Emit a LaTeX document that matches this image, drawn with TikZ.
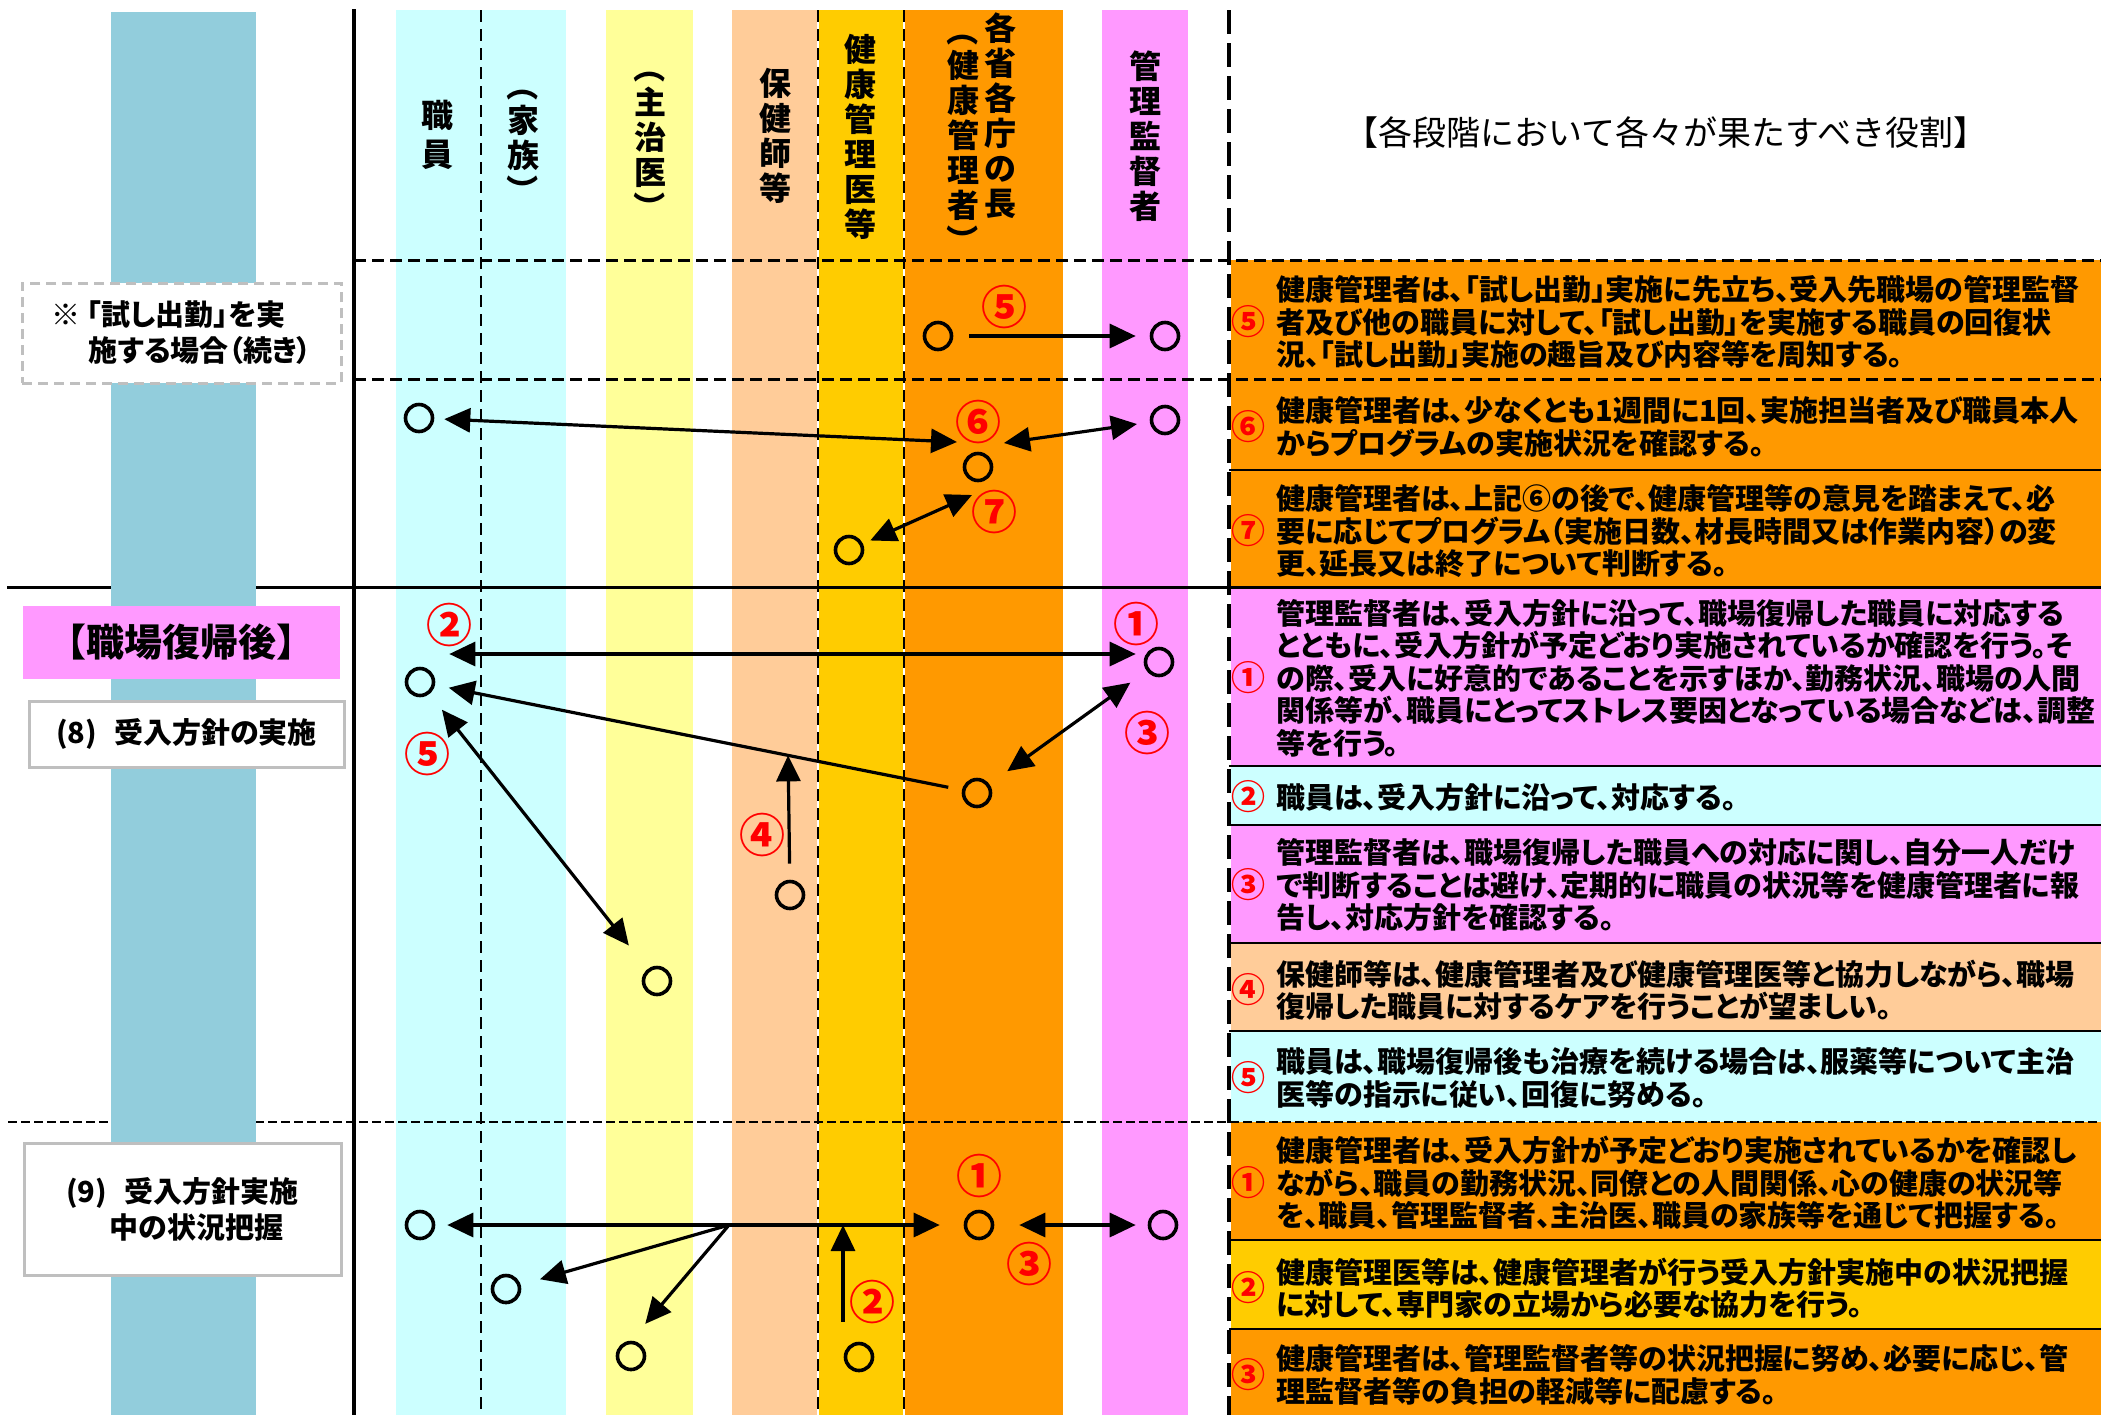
\documentclass[tikz,border=0pt]{standalone}
\usepackage{fontspec}
\usepackage{graphicx}
\setmainfont{Noto Sans CJK JP}
\newfontfamily\jpprop{Noto Sans CJK JP}[RawFeature=+palt]
\usetikzlibrary{arrows.meta,positioning}

\definecolor{bandblue}{HTML}{92CDDC}
\definecolor{staffcyan}{HTML}{CCFFFF}
\definecolor{doctoryellow}{HTML}{FFFF99}
\definecolor{nursepeach}{HTML}{FFCC99}
\definecolor{physgold}{HTML}{FFCC00}
\definecolor{headorange}{HTML}{FF9900}
\definecolor{bosspink}{HTML}{FF99FF}
\definecolor{boxgray}{HTML}{BFBFBF}

\newcommand{\vlparen}{\rotatebox[origin=c]{-90}{（}}
\newcommand{\vrparen}{\rotatebox[origin=c]{-90}{）}}

\begin{document}
\begin{tikzpicture}[
  x=0.5pt, y=-0.5pt,
  vlabel/.style={font=\bfseries\fontsize{16}{17.5}\selectfont, align=center, inner sep=0pt},
  title/.style={font=\fontsize{17}{20}\selectfont, inner sep=0pt},
  role/.style={anchor=west, align=left, inner sep=0pt, font=\jpprop\bfseries\fontsize{14.5}{16.25}\selectfont},
  rolenum/.style={text=red, inner sep=0pt, font=\bfseries\fontsize{17}{18}\selectfont},
  stepnum/.style={text=red, inner sep=0pt, font=\bfseries\fontsize{23}{24}\selectfont},
  actor/.style={circle, draw, line width=1.8pt, minimum size=13.5pt, inner sep=0pt},
  arr/.style={-{Triangle[length=13pt,width=12pt]}, line width=1.6pt},
  dbl/.style={{Triangle[length=13pt,width=12pt]}-{Triangle[length=13pt,width=12pt]}, line width=1.6pt},
  phasebox/.style={draw=boxgray, line width=1.5pt, fill=white, inner sep=0pt, font=\jpprop\bfseries\fontsize{14.5}{18}\selectfont},
  rowdash/.style={line width=1.5pt, dash pattern=on 6pt off 3pt},
  lanedash/.style={line width=1pt, dash pattern=on 6pt off 3.5pt}
]
\useasboundingbox (0,0) rectangle (2101,1415);

\fill[staffcyan] (396,10) rectangle (566,1415);
\fill[doctoryellow] (606,10) rectangle (693,1415);
\fill[nursepeach] (732,10) rectangle (817,1415);
\fill[physgold] (819,10) rectangle (903,1415);
\fill[headorange] (905,10) rectangle (1063,1415);
\fill[bosspink] (1102,10) rectangle (1188,1415);

\fill[headorange] (1231,260) rectangle (2101,587);
\fill[bosspink] (1231,587) rectangle (2101,766);
\fill[staffcyan] (1231,766) rectangle (2101,825);
\fill[bosspink] (1231,825) rectangle (2101,943);
\fill[nursepeach] (1231,943) rectangle (2101,1031);
\fill[staffcyan] (1231,1031) rectangle (2101,1122);
\fill[headorange] (1231,1122) rectangle (2101,1240);
\fill[physgold] (1231,1240) rectangle (2101,1329);
\fill[headorange] (1231,1329) rectangle (2101,1415);
\foreach \y in {470,766,825,943,1031,1240,1329}
  \draw[line width=0.8pt] (1229,\y) -- (2101,\y);

\draw[rowdash] (354,260) -- (2101,260);
\draw[rowdash] (354,379) -- (2101,379);
\draw[line width=1.5pt] (7,587) -- (2101,587);
\draw[line width=1pt, dash pattern=on 4.5pt off 2pt] (8,1122) -- (2101,1122);

\draw[lanedash] (481,10) -- (481,1415);
\draw[lanedash] (818,10) -- (818,1415);
\draw[lanedash] (904,10) -- (904,1415);
\draw[line width=2pt] (354,9) -- (354,1415);
\draw[line width=2pt, dash pattern=on 12pt off 4.5pt] (1229,10) -- (1229,1415);

\fill[bandblue] (111,12) rectangle (256,1415);

\node[phasebox, dash pattern=on 5pt off 3pt, minimum width=159.5pt, minimum height=50pt, align=left] (trial) at (181.5,333) {※ 「試し出勤」を実\\\hspace*{1.3em}施する場合（続き）};
\node[fill=bosspink, minimum width=158.5pt, minimum height=36.5pt, inner sep=0pt, font=\bfseries\fontsize{19}{20}\selectfont] (after) at (181.5,642.5) {【職場復帰後】};
\node[phasebox, minimum width=157.5pt, minimum height=33pt] (p8) at (186.5,734) {(8)\hspace{0.6em}受入方針の実施};
\node[phasebox, minimum width=158.5pt, minimum height=66pt, align=left] (p9) at (182.5,1209) {(9)\hspace{0.6em}受入方針実施\\\hspace*{1.5em}中の状況把握};

\node[vlabel] (hstaff) at (437,135) {職\\[2pt]員};
\node[vlabel] (hfamily) at (523,138) {\vlparen\\家\\族\\\vrparen};
\node[vlabel] (hdoctor) at (650,137) {\vlparen\\主\\治\\医\\\vrparen};
\node[vlabel] (hnurse) at (775,136) {保\\健\\師\\等};
\node[vlabel] (hphys) at (860,137) {健\\康\\管\\理\\医\\等};
\node[vlabel] (hchief) at (1000,116) {各\\省\\各\\庁\\の\\長};
\node[vlabel] (hmanager) at (963,135) {\vlparen\\健\\康\\管\\理\\者\\\vrparen};
\node[vlabel] (hboss) at (1145,136) {管\\理\\監\\督\\者};
\node[title] (htitle) at (1666,133) {【各段階において各々が果たすべき役割】};

\node[actor] (t5c) at (938,336) {};
\node[actor] (t5m) at (1165,336) {};
\node[stepnum] (l5t) at (1004,307) {⑤};
\draw[arr, shorten <=8pt, shorten >=7pt] (t5c) -- (t5m);

\node[actor] (t6s) at (419,418) {};
\node[actor] (t6m) at (1165,420) {};
\node[actor] (t6c) at (978,467) {};
\node[actor] (t7p) at (849,550) {};
\coordinate (h6l) at (957,442);
\coordinate (h6r) at (1004,443);
\coordinate (h7) at (972,495);
\draw[dbl, shorten <=5pt] (t6s) -- (h6l);
\draw[dbl, shorten >=6.5pt] (h6r) -- (t6m);
\draw[dbl, shorten <=4pt] (t7p) -- (h7);
\node[stepnum] (l6) at (978,422) {⑥};
\node[stepnum] (l7) at (994,512) {⑦};

\node[actor] (r8s) at (420,682) {};
\node[actor] (r8m) at (1159,662) {};
\node[actor] (r8c) at (977,793) {};
\node[actor] (r8n) at (790,895) {};
\node[actor] (r8d) at (657,981) {};
\coordinate (a8) at (0,654);
\draw[dbl, shorten <=7pt, shorten >=4pt] (r8s.east |- a8) -- (r8m.west |- a8);
\draw[arr, shorten <=7pt, shorten >=7pt] (r8c) -- (r8s);
\path (r8c) -- coordinate[pos=0.33] (a4) (r8s);
\draw[arr, shorten <=8pt] (r8n) -- (a4);
\draw[dbl, shorten <=10pt, shorten >=11pt] (r8m) -- (r8c);
\draw[dbl, shorten <=10pt, shorten >=15pt] (r8s) -- (r8d);
\node[stepnum] (l82) at (449,625) {②};
\node[stepnum] (l81) at (1136,624) {①};
\node[stepnum] (l83) at (1147,733) {③};
\node[stepnum] (l84) at (762,835) {④};
\node[stepnum] (l85) at (427,754) {⑤};

\node[actor] (r9s) at (420,1225) {};
\node[actor] (r9f) at (506,1289) {};
\node[actor] (r9d) at (631,1356) {};
\node[actor] (r9p) at (859,1357) {};
\node[actor] (r9c) at (979,1225) {};
\node[actor] (r9m) at (1163,1225) {};
\draw[dbl, shorten <=6pt, shorten >=12pt] (r9s) -- (r9c);
\coordinate (b9) at (729,1225);
\draw[arr, shorten >=10pt] (b9) -- (r9f);
\draw[arr, shorten >=11pt] (b9) -- (r9d.north);
\draw[arr, shorten <=10pt] ([xshift=-8pt]r9p.north) -- ([xshift=-8pt]r9p.north |- r9s);
\draw[dbl, shorten <=12.5pt, shorten >=6pt] (r9c) -- (r9m);
\node[stepnum] (l91) at (979,1176) {①};
\node[stepnum] (l92) at (872,1302) {②};
\node[stepnum] (l93) at (1029,1264) {③};

\node[rolenum] (n5t) at (1248,322) {⑤};
\node[role] (d5t) at (1276,322) {健康管理者は、「試し出勤」実施に先立ち、受入先職場の管理監督\\者及び他の職員に対して、「試し出勤」を実施する職員の回復状\\況、「試し出勤」実施の趣旨及び内容等を周知する。};
\node[rolenum] (n6) at (1248,427) {⑥};
\node[role] (d6) at (1276,427) {健康管理者は、少なくとも1週間に1回、実施担当者及び職員本人\\からプログラムの実施状況を確認する。};
\node[rolenum] (n7) at (1248,531) {⑦};
\node[role] (d7) at (1276,531) {健康管理者は、上記⑥の後で、健康管理等の意見を踏まえて、必\\要に応じてプログラム（実施日数、材長時間又は作業内容）の変\\更、延長又は終了について判断する。};
\node[rolenum] (n81) at (1248,678) {①};
\node[role] (d81) at (1276,678) {管理監督者は、受入方針に沿って、職場復帰した職員に対応する\\とともに、受入方針が予定どおり実施されているか確認を行う。そ\\の際、受入に好意的であることを示すほか、勤務状況、職場の人間\\関係等が、職員にとってストレス要因となっている場合などは、調整\\等を行う。};
\node[rolenum] (n82) at (1248,797) {②};
\node[role] (d82) at (1276,797) {職員は、受入方針に沿って、対応する。};
\node[rolenum] (n83) at (1248,885) {③};
\node[role] (d83) at (1276,885) {管理監督者は、職場復帰した職員への対応に関し、自分一人だけ\\で判断することは避け、定期的に職員の状況等を健康管理者に報\\告し、対応方針を確認する。};
\node[rolenum] (n84) at (1248,990) {④};
\node[role] (d84) at (1276,990) {保健師等は、健康管理者及び健康管理医等と協力しながら、職場\\復帰した職員に対するケアを行うことが望ましい。};
\node[rolenum] (n85) at (1248,1078) {⑤};
\node[role] (d85) at (1276,1078) {職員は、職場復帰後も治療を続ける場合は、服薬等について主治\\医等の指示に従い、回復に努める。};
\node[rolenum] (n91) at (1248,1183) {①};
\node[role] (d91) at (1276,1183) {健康管理者は、受入方針が予定どおり実施されているかを確認し\\ながら、職員の勤務状況、同僚との人間関係、心の健康の状況等\\を、職員、管理監督者、主治医、職員の家族等を通じて把握する。};
\node[rolenum] (n92) at (1248,1288) {②};
\node[role] (d92) at (1276,1288) {健康管理医等は、健康管理者が行う受入方針実施中の状況把握\\に対して、専門家の立場から必要な協力を行う。};
\node[rolenum] (n93) at (1248,1375) {③};
\node[role] (d93) at (1276,1375) {健康管理者は、管理監督者等の状況把握に努め、必要に応じ、管\\理監督者等の負担の軽減等に配慮する。};
\end{tikzpicture}
\end{document}
